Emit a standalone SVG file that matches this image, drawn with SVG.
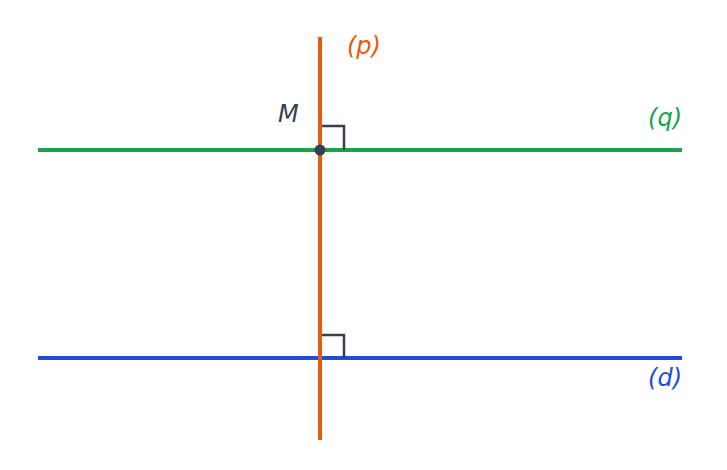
<svg xmlns="http://www.w3.org/2000/svg" width="727" height="470" viewBox="0 0 727 470">
<style>
.l{stroke-width:4;fill:none}
.ra{stroke:#334155;stroke-width:2.5;fill:none}
text{font-family:"DejaVu Sans",sans-serif;font-style:italic;font-size:24px}
</style>
<rect width="727" height="470" fill="#fff"/>
<g id="connectors">
<line id="q" class="l" x1="38" y1="150" x2="682" y2="150" stroke="#16a34a"/>
<line id="d" class="l" x1="38" y1="358" x2="682" y2="358" stroke="#1d4ed8"/>
<polyline class="ra" points="320,126 344,126 344,150"/>
<polyline class="ra" points="320,335 344,335 344,358"/>
<line id="p" class="l" x1="320" y1="37" x2="320" y2="440" stroke="#ea580c"/>
</g>
<g id="M"><circle cx="320" cy="150" r="5.5" fill="#334155"/><text x="278" y="122" fill="#334155">M</text></g>
<g id="labels">
<text x="347" y="54" fill="#ea580c">(p)</text>
<text x="682" y="126" fill="#16a34a" text-anchor="end">(q)</text>
<text x="682" y="386" fill="#1d4ed8" text-anchor="end">(d)</text>
</g>
</svg>
